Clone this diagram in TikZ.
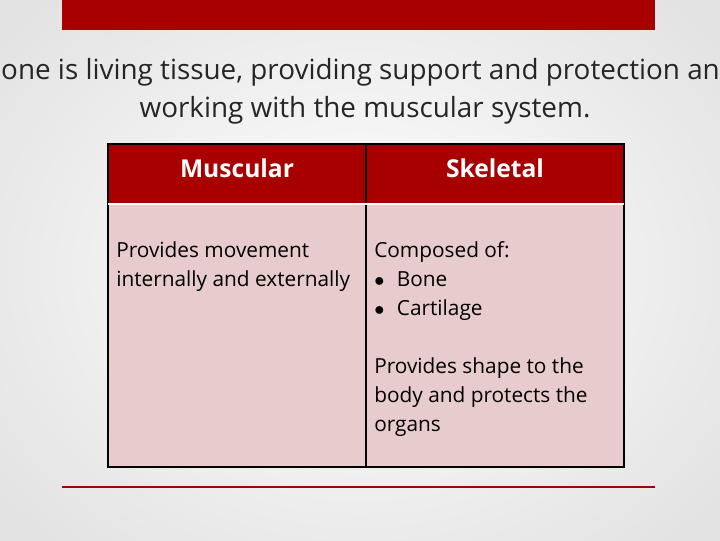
\documentclass[tikz,border=0pt]{standalone}
\usepackage{fontspec}
\setmainfont{Open Sans}
\definecolor{slidered}{HTML}{A80000}
\definecolor{cellpink}{HTML}{E8CBCC}
\tikzset{
  headtext/.style={text=white, font=\fontsize{17.5}{20}\selectfont\bfseries},
  bodytext/.style={anchor=base west, font=\fontsize{14.8}{17}\selectfont, inner sep=0pt},
  titletext/.style={font=\fontsize{19.8}{23}\selectfont, text=black!85}
}
\begin{document}
\begin{tikzpicture}[x=0.025cm, y=-0.025cm]
    \useasboundingbox (0,0) rectangle (720,540);
    \clip (0,0) rectangle (720,540);
    \shade[inner color=white, outer color=gray!22] (-100,-100) rectangle (820,640);

    % top bar and bottom rule
    \fill[slidered] (62,0) rectangle (655,30);
    \draw[slidered, line width=2pt] (62,487) -- (655,487);

    % title
    \node[titletext] (title1) at (360,72) {Bone is living tissue, providing support and protection and};
    \node[titletext] (title2) at (365,110) {working with the muscular system.};

    % table
    \fill[slidered] (108,144) rectangle (624,204);
    \fill[cellpink] (108,204) rectangle (624,467);
    \draw[line width=1.2pt] (108,144) rectangle (624,467);
    \draw[line width=1.2pt] (366,144) -- (366,467);
    \draw[white, line width=1pt] (108,204) -- (624,204);

    \node[headtext] (muscular) at (237,168) {Muscular};
    \node[headtext] (skeletal) at (495,168) {Skeletal};

    % left column
    \node[bodytext] (m1) at (116,257) {Provides movement};
    \node[bodytext] (m2) at (116,286) {internally and externally};

    % right column
    \node[bodytext] (s1) at (374,257) {Composed of:};
    \node[bodytext] (s2) at (374,286) {$\bullet$\hspace{0.6em}Bone};
    \node[bodytext] (s3) at (374,315) {$\bullet$\hspace{0.6em}Cartilage};
    \node[bodytext] (s4) at (374,373) {Provides shape to the};
    \node[bodytext] (s5) at (374,402) {body and protects the};
    \node[bodytext] (s6) at (374,431) {organs};
\end{tikzpicture}
\end{document}
